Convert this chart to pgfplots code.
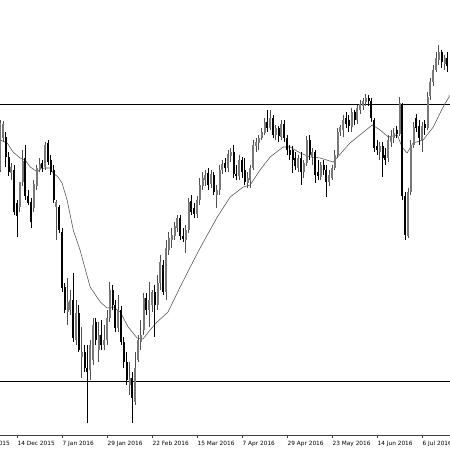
\documentclass[border=0pt]{standalone}
\usepackage{fontspec}
\setmainfont{DejaVu Sans}
\usepackage{pgfplots}
\usepackage{pgfplotstable}
\pgfplotsset{compat=1.18}
\definecolor{upbody}{RGB}{120,120,120}
\definecolor{upwick}{RGB}{80,80,80}
\definecolor{macol}{RGB}{80,80,80}
% o h l c read as depth below the top edge (larger = lower price); d=1 rising candle, d=0 falling
\pgfplotstableread{
i o h l c d
0 170 120 172 123 1
1 138 121 142 124 1
2 137 132 167 157 0
3 157 152 176 172 0
4 173 163 180 167 1
5 170 165 215 212 0
6 203 200 237 216 0
7 207 195 212 182 1
8 182 150 186 161 1
9 158 145 200 196 0
10 196 190 205 203 0
11 202 198 228 222 0
12 208 180 212 184 1
13 186 165 190 168 1
14 170 158 172 164 1
15 163 160 172 168 0
16 167 142 170 145 1
17 143 140 165 162 0
18 160 155 175 172 0
19 170 165 203 200 0
20 207 200 240 202 1
21 207 205 233 230 0
22 232 228 292 288 0
23 287 283 313 310 0
24 312 278 325 302 1
25 310 290 315 300 1
26 300 273 342 338 0
27 340 300 345 313 1
28 313 305 352 350 0
29 357 327 378 352 1
30 352 345 372 368 0
31 368 345 423 372 0
32 370 340 380 345 1
33 360 318 365 325 1
34 322 318 345 340 0
35 350 322 362 335 1
36 335 320 350 345 0
37 345 325 350 340 1
38 340 310 345 318 1
39 318 282 322 290 1
40 290 285 310 305 0
41 305 300 332 328 0
42 328 295 332 310 1
43 310 306 345 342 0
44 342 337 368 362 0
45 362 352 385 380 0
46 385 362 395 378 1
47 378 372 423 398 0
48 402 352 405 368 1
49 360 335 362 340 1
50 342 320 350 335 1
51 330 293 335 298 1
52 298 293 315 310 0
53 310 282 327 300 1
54 305 290 312 292 1
55 292 285 337 305 0
56 305 275 310 283 1
57 283 255 290 262 1
58 265 260 295 292 0
59 292 240 300 248 1
60 250 232 255 238 1
61 240 228 248 235 1
62 236 222 240 226 1
63 228 215 232 218 1
64 218 215 240 236 0
65 236 228 242 239 0
66 240 225 253 230 1
67 230 198 233 202 1
68 201 195 215 212 0
69 208 203 218 214 0
70 214 196 218 200 1
71 200 178 205 185 1
72 186 172 190 178 1
73 180 170 186 175 1
74 173 168 190 185 0
75 184 170 188 174 1
76 175 172 195 192 0
77 195 185 208 190 1
78 190 165 195 170 1
79 170 160 174 164 1
80 163 158 172 168 0
81 168 150 172 154 1
82 156 148 162 152 1
83 152 145 178 174 0
84 174 165 180 176 0
85 176 155 180 160 1
86 160 157 178 172 0
87 170 158 185 182 0
88 183 172 188 178 1
89 180 165 188 168 1
90 168 140 170 145 1
91 146 138 152 142 1
92 143 135 150 138 1
93 138 128 140 132 1
94 133 118 135 122 1
95 122 110 132 128 0
96 128 110 130 118 1
97 118 115 138 135 0
98 135 125 140 128 1
99 128 126 142 136 0
100 137 120 140 124 1
101 124 120 142 138 0
102 138 135 155 150 0
103 150 145 160 155 0
104 150 146 173 160 0
105 158 152 170 166 0
106 168 155 172 158 1
107 158 152 185 172 0
108 172 160 178 163 1
109 163 136 166 140 1
110 140 135 160 155 0
111 157 148 165 152 1
112 152 150 183 175 0
113 172 160 180 176 0
114 177 162 180 165 1
115 165 160 175 170 0
116 170 165 197 182 0
117 182 170 186 175 1
118 178 165 180 168 1
119 168 150 170 155 1
120 155 128 158 132 1
121 132 125 136 127 1
122 130 115 137 120 1
123 118 112 128 124 0
124 120 115 132 126 0
125 127 108 132 112 1
126 112 110 125 120 0
127 120 105 124 108 1
128 110 100 114 104 1
129 106 98 110 101 1
130 102 94 106 98 1
131 98 95 106 101 0
132 101 98 122 118 0
133 120 118 152 148 0
134 146 140 155 150 0
135 152 142 160 146 1
136 146 142 177 158 0
137 155 148 165 160 0
138 158 135 162 140 1
139 142 130 147 136 1
140 138 128 143 133 1
141 130 126 138 134 0
142 134 97 136 103 1
143 105 103 200 196 0
144 196 192 240 235 0
145 236 188 238 192 1
146 192 140 195 145 1
147 145 122 148 127 1
148 118 114 132 128 0
149 126 120 145 138 0
150 140 122 152 126 1
151 124 120 135 128 0
152 128 92 130 97 1
153 96 78 100 82 1
154 82 65 86 70 1
155 70 52 72 58 1
156 60 45 65 52 1
157 52 50 68 62 0
158 64 55 70 58 1
159 58 52 72 66 0
}\candles
\pgfplotstableread{
i v
0 140
2.5 143
4.6 152
7.1 158
8.9 160
10.7 167
13.2 172
14.2 169
16 168
17.8 168
18.8 173
20.6 177
22 183
23.8 200
26 230
28.4 250
32 287
35.6 302
38 308
40.2 307
42.7 312
45.5 327
48.7 338
50.8 339
53.3 330
55.8 322
59.7 312
64 287
67.6 267
71.1 248
77.2 217
81.8 197
86.4 187
88.9 185
92.4 170
96 157
100.6 147
103.1 147
106.7 153
110.2 157
113.8 158
118.4 162
124.4 143
132.3 125
135.1 130
138 137
141.2 135
142.9 147
144.7 153
146.8 143
150.4 140
154 127
157.5 107
160 95
}\ma
\begin{document}
\begin{tikzpicture}
\begin{axis}[
  scale only axis, width=450pt, height=435pt,
  xmin=-0.05, xmax=159.95, ymin=-435, ymax=0,
  axis x line*=bottom, axis y line=none,
  x axis line style={-, line width=0.6pt, color=black!75},
  xtick={6,22,38,54,70,86,102,118,134,150},
  xticklabels={14 Dec 2015,7 Jan 2016,29 Jan 2016,22 Feb 2016,15 Mar 2016,7 Apr 2016,29 Apr 2016,23 May 2016,14 Jun 2016,6 Jul 2016},
  tick align=outside, major tick length=3pt,
  x tick style={color=black!75, line width=0.6pt},
  xticklabel style={anchor=north west, inner sep=0pt, xshift=0.5pt, yshift=-2.5pt, font=\fontsize{5.8}{6.5}\selectfont},
  ytick=\empty,
]
\addplot[black, line width=0.6pt] coordinates {(-0.05,-104) (159.95,-104)};
\addplot[black, line width=0.6pt] coordinates {(-0.05,-381) (159.95,-381)};
\addplot[macol, line width=0.55pt] table[x=i, y expr=-\thisrow{v}] {\ma};
\pgfplotsinvokeforeach{0,...,159}{%
  \pgfplotstablegetelem{#1}{o}\of\candles \let\co\pgfplotsretval
  \pgfplotstablegetelem{#1}{h}\of\candles \let\ch\pgfplotsretval
  \pgfplotstablegetelem{#1}{l}\of\candles \let\cl\pgfplotsretval
  \pgfplotstablegetelem{#1}{c}\of\candles \let\cc\pgfplotsretval
  \pgfplotstablegetelem{#1}{d}\of\candles
  \ifnum\pgfplotsretval=1\relax\def\bc{upbody}\def\wc{upwick}\else\def\bc{black}\def\wc{black}\fi
  \edef\temp{\noexpand\addplot[draw=\wc, line width=0.8pt, line cap=butt, forget plot] coordinates {(#1,-\cl) (#1,-\ch)};%
    \noexpand\addplot[draw=\bc, line width=2pt, line cap=butt, forget plot] coordinates {(#1,-\co) (#1,-\cc)};}%
  \temp
}
\coordinate (bl) at (axis cs:-0.05,-450);
\coordinate (tr) at (axis cs:159.95,0);
\coordinate (t0) at (axis cs:-10,-435);
\end{axis}
\node[anchor=north west, inner sep=0pt, xshift=0.5pt, yshift=-5.5pt, font=\fontsize{5.8}{6.5}\selectfont] at (t0) {19 Nov 2015};
\pgfresetboundingbox
\path[use as bounding box] (bl) rectangle (tr);
\end{tikzpicture}
\end{document}
